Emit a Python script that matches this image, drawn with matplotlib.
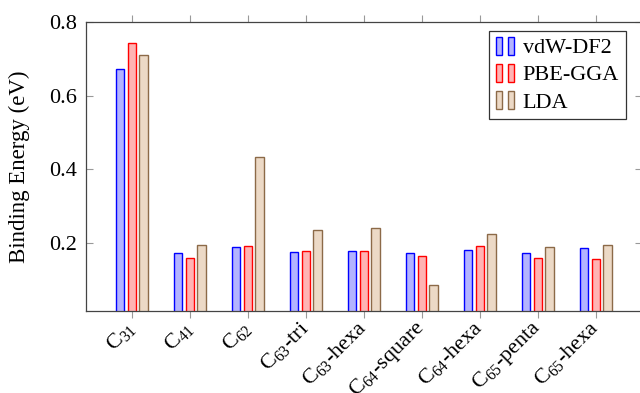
import numpy as np
import matplotlib
matplotlib.use("Agg")
import matplotlib.pyplot as plt
from matplotlib.legend_handler import HandlerBase
from matplotlib.patches import Rectangle

plt.rcParams['font.family'] = ['Liberation Serif', 'DejaVu Serif']
plt.rcParams['mathtext.fontset'] = 'custom'
plt.rcParams['mathtext.rm'] = 'Liberation Serif'
plt.rcParams['mathtext.it'] = 'Liberation Serif:italic'

categories = ['C$_{31}$', 'C$_{41}$', 'C$_{62}$', 'C$_{63}$-tri', 'C$_{63}$-hexa',
              'C$_{64}$-square', 'C$_{64}$-hexa', 'C$_{65}$-penta', 'C$_{65}$-hexa']
vdw = [0.671, 0.172, 0.189, 0.175, 0.180, 0.172, 0.182, 0.174, 0.186]
pbe = [0.744, 0.159, 0.193, 0.178, 0.178, 0.166, 0.193, 0.160, 0.157]
lda = [0.710, 0.195, 0.434, 0.236, 0.242, 0.087, 0.225, 0.190, 0.196]

series = [
    ('vdW-DF2', vdw, '#b3b3ff', '#0000ff'),
    ('PBE-GGA', pbe, '#ffb3b3', '#ff0000'),
    ('LDA', lda, '#ecd9c6', '#8c6a48'),
]


class TwoBars(HandlerBase):
    def create_artists(self, legend, orig, xd, yd, width, height, fontsize, trans):
        fc = orig.get_facecolor()
        ec = orig.get_edgecolor()
        bw = width * 0.3
        arts = []
        for x0 in (0.0, width * 0.65):
            r = Rectangle((x0 - xd, -yd - height * 0.1), bw, height * 1.15,
                          facecolor=fc, edgecolor=ec, lw=1.0, transform=trans)
            arts.append(r)
        return arts


fig = plt.figure(figsize=(6.4, 3.93), dpi=100)
ax = fig.add_axes([0.134, 0.2087, 0.869, 0.7355])

x = np.arange(len(categories))
w = 0.147
offs = [-0.203, 0.0, 0.203]
handles = []
for (name, vals, fc, ec), o in zip(series, offs):
    b = ax.bar(x + o, vals, w, color=fc, edgecolor=ec, linewidth=1.0, label=name)
    handles.append(b.patches[0])

ax.set_xlim(-0.793, len(categories) - 1 + 0.793)
ax.set_ylim(0.016, 0.8)
ax.set_yticks([0.2, 0.4, 0.6, 0.8])
ax.set_yticklabels(['0.2', '0.4', '0.6', '0.8'], fontsize=16)
ax.set_xticks(x)
ax.set_xticklabels(categories, rotation=45, ha='right', va='center',
                   rotation_mode='anchor', fontsize=16)
ax.tick_params(axis='x', direction='out', top=True, length=5, color='#999999', pad=5)
ax.tick_params(axis='y', direction='in', right=True, length=5, color='#999999', pad=6)
for s in ax.spines.values():
    s.set_color('#444444')
    s.set_linewidth(0.9)
ax.set_ylabel('Binding Energy (eV)', fontsize=16.5)
ax.yaxis.set_label_coords(-0.1, 0.5)

leg = ax.legend(handles, [s[0] for s in series], loc='upper right',
                bbox_to_anchor=(0.971, 0.969), fontsize=16, frameon=True,
                fancybox=False, edgecolor='#333333', framealpha=1,
                handler_map={Rectangle: TwoBars()}, handlelength=0.85,
                handletextpad=0.35, borderpad=0.3, labelspacing=0.3,
                borderaxespad=0)
leg.get_frame().set_linewidth(0.9)

fig.savefig('out.png', dpi=100)
